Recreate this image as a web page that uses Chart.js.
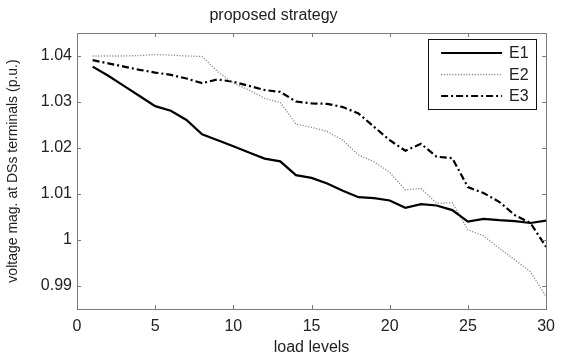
<!DOCTYPE html>
<html>
<head>
<meta charset="utf-8">
<script src="https://cdn.jsdelivr.net/npm/chart.js@4.4.0/dist/chart.umd.min.js"></script>
<style>
html,body{margin:0;padding:0;background:#fff;}
#wrap{width:563px;height:359px;}
</style>
</head>
<body>
<div id="wrap"><canvas id="c" width="563" height="359"></canvas></div>
<script>
const loadLevels = [1,2,3,4,5,6,7,8,9,10,11,12,13,14,15,16,17,18,19,20,21,22,23,24,25,26,27,28,29,30];
const e1 = [1.0377,1.0357,1.0335,1.0313,1.0291,1.0281,1.0261,1.0230,1.0217,1.0204,1.0190,1.0177,1.0171,1.0141,1.0135,1.0123,1.0107,1.0093,1.0091,1.0086,1.0070,1.0078,1.0075,1.0065,1.0040,1.0046,1.0043,1.0041,1.0037,1.0042];
const e2 = [1.0400,1.0400,1.0400,1.0401,1.0403,1.0402,1.0400,1.0399,1.0366,1.0341,1.0326,1.0308,1.0299,1.0252,1.0245,1.0236,1.0217,1.0185,1.0170,1.0147,1.0109,1.0112,1.0080,1.0081,1.0022,1.0009,0.9982,0.9957,0.9931,0.9877];
const e3 = [1.0391,1.0384,1.0377,1.0370,1.0364,1.0359,1.0351,1.0341,1.0349,1.0344,1.0335,1.0326,1.0322,1.0301,1.0297,1.0296,1.0289,1.0275,1.0246,1.0217,1.0194,1.0209,1.0181,1.0178,1.0115,1.0102,1.0083,1.0054,1.0037,0.9985];
const seriesNames = ['E1','E2','E3'];
const xTicks = [0,5,10,15,20,25,30];
const yTicks = [0.99,1.00,1.01,1.02,1.03,1.04];
const yTickLabels = ['0.99','1','1.01','1.02','1.03','1.04'];
const titleText = 'proposed strategy';
const xTitle = 'load levels';
const yTitle = 'voltage mag. at DSs terminals (p.u.)';

const FONT = 'Liberation Sans, Arial, sans-serif';
const AXIS_COLOR = '#7a7a7a';
const TEXT_COLOR = '#222';

const boxTicks = {
  id: 'boxTicks',
  afterDatasetsDraw(chart) {
    const ctx = chart.ctx, a = chart.chartArea;
    const xs = chart.scales.x, ys = chart.scales.y;
    ctx.save();
    ctx.strokeStyle = AXIS_COLOR;
    ctx.lineWidth = 1;
    ctx.strokeRect(Math.round(a.left)+0.5, Math.round(a.top)+0.5, Math.round(a.right-a.left), Math.round(a.bottom-a.top));
    const L = 4;
    ctx.beginPath();
    xTicks.forEach(v => {
      const px = Math.round(xs.getPixelForValue(v)) + 0.5;
      ctx.moveTo(px, a.bottom); ctx.lineTo(px, a.bottom - L);
      ctx.moveTo(px, a.top); ctx.lineTo(px, a.top + L);
    });
    yTicks.forEach(v => {
      const py = Math.round(ys.getPixelForValue(v)) + 0.5;
      ctx.moveTo(a.left, py); ctx.lineTo(a.left + L, py);
      ctx.moveTo(a.right, py); ctx.lineTo(a.right - L, py);
    });
    ctx.stroke();
    ctx.restore();
  }
};

const boxLegend = {
  id: 'boxLegend',
  afterDraw(chart) {
    const ctx = chart.ctx, a = chart.chartArea;
    const bx = a.right - 118, by = a.top + 6, bw = 108, bh = 70;
    ctx.save();
    ctx.fillStyle = '#fff';
    ctx.fillRect(bx, by, bw, bh);
    ctx.strokeStyle = '#111';
    ctx.lineWidth = 1;
    ctx.strokeRect(Math.round(bx)+0.5, Math.round(by)+0.5, bw, bh);
    chart.data.datasets.forEach((ds, i) => {
      const y = by + 14 + i * 21.5;
      ctx.beginPath();
      ctx.setLineDash(ds.borderDash || []);
      ctx.strokeStyle = ds.borderColor;
      ctx.lineWidth = ds.borderWidth;
      ctx.moveTo(bx + 13, y); ctx.lineTo(bx + 74, y);
      ctx.stroke();
      ctx.setLineDash([]);
      ctx.fillStyle = TEXT_COLOR;
      ctx.font = '16px ' + FONT;
      ctx.textBaseline = 'middle';
      ctx.fillText(ds.label, bx + 81, y + 1);
    });
    ctx.restore();
  }
};

const styles = [
  {borderColor:'#000', borderWidth:2.2, borderDash:[]},
  {borderColor:'#8a8a8a', borderWidth:1.3, borderDash:[1.2,1.6]},
  {borderColor:'#000', borderWidth:2.2, borderDash:[7,3,2,3]}
];
const seriesData = [e1, e2, e3];

new Chart(document.getElementById('c'), {
  type: 'line',
  data: {
    datasets: seriesNames.map((n, i) => ({
      label: n,
      data: loadLevels.map((x, j) => ({x: x, y: seriesData[i][j]})),
      borderColor: styles[i].borderColor,
      borderWidth: styles[i].borderWidth,
      borderDash: styles[i].borderDash,
      pointRadius: 0,
      tension: 0,
      fill: false
    }))
  },
  options: {
    responsive: false,
    animation: false,
    devicePixelRatio: 1,
    layout: {padding: {left: 0, right: 16, top: 0, bottom: 0}},
    plugins: {
      legend: {display: false},
      tooltip: {enabled: false},
      title: {
        display: true, text: titleText, color: TEXT_COLOR,
        font: {family: FONT, size: 16, weight: 'normal'},
        padding: {top: 6.4, bottom: 7.4}
      }
    },
    scales: {
      x: {
        type: 'linear', min: 0, max: 30,
        afterBuildTicks: s => { s.ticks = xTicks.map(v => ({value: v})); },
        afterFit: s => { s.height = 50; },
        grid: {display: false, drawTicks: false},
        border: {display: false},
        ticks: {color: TEXT_COLOR, font: {family: FONT, size: 16}, padding: 8, maxRotation: 0,
          callback: v => String(v)},
        title: {display: true, text: xTitle, color: TEXT_COLOR, font: {family: FONT, size: 16}, padding: {top: 2, bottom: 1.5}}
      },
      y: {
        type: 'linear', min: 0.985, max: 1.045,
        afterBuildTicks: s => { s.ticks = yTicks.map(v => ({value: v})); },
        afterFit: s => { s.width = 77; },
        grid: {display: false, drawTicks: false},
        border: {display: false},
        ticks: {color: TEXT_COLOR, font: {family: FONT, size: 16}, padding: 5,
          callback: v => { const k = yTicks.findIndex(t => Math.abs(t - v) < 1e-9); return k >= 0 ? yTickLabels[k] : ''; }},
        title: {display: true, text: yTitle, color: TEXT_COLOR, font: {family: FONT, size: 14}, padding: {top: 5, bottom: 0}}
      }
    }
  },
  plugins: [boxTicks, boxLegend]
});
</script>
</body>
</html>
